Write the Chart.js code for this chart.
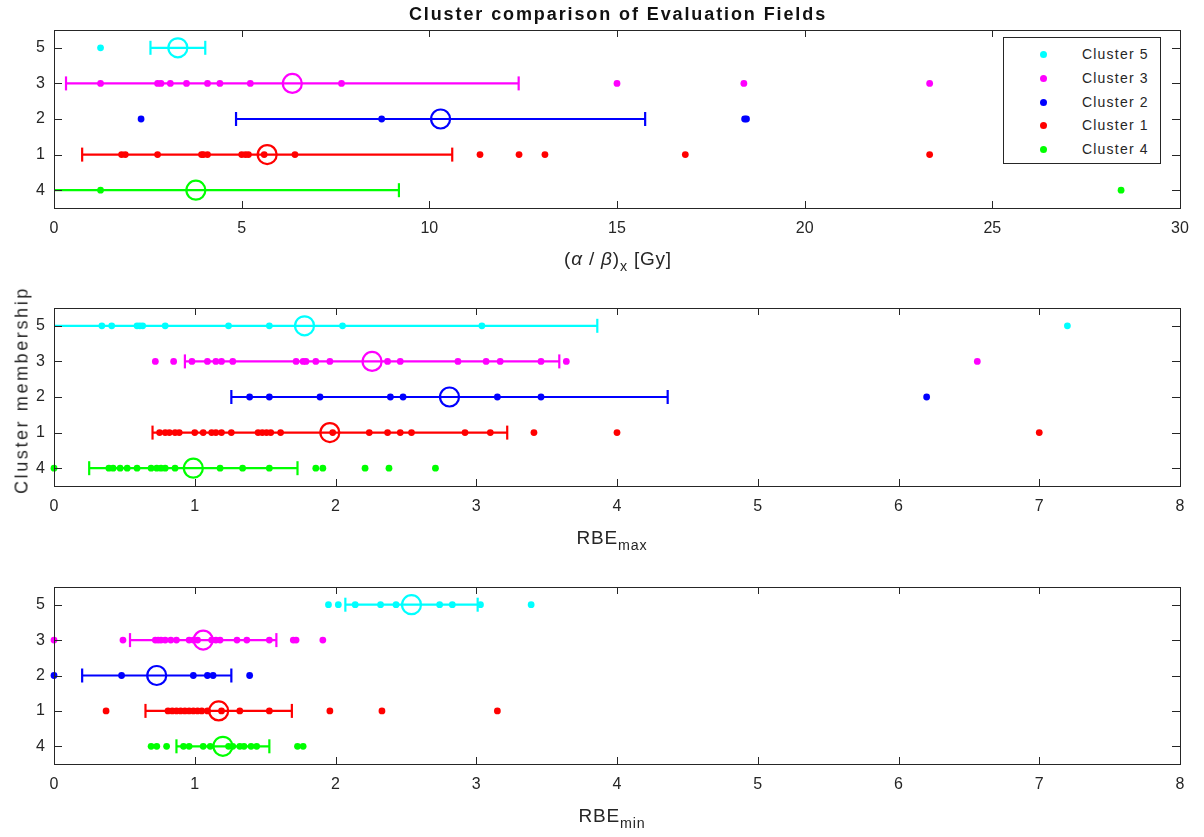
<!DOCTYPE html>
<html>
<head>
<meta charset="utf-8">
<script src="https://cdn.jsdelivr.net/npm/chart.js@4.4.1/dist/chart.umd.min.js"></script>
<style>
  body { margin: 0; background: #fff; }
  #wrap { position: relative; width: 1204px; height: 837px; background: #fff; font-family: 'Liberation Sans', Arial, sans-serif; color: #262626; }
  canvas { position: absolute; left: 0; }
  .lbl { position: absolute; white-space: nowrap; transform: translate(-50%, -50%); }
  .lbl sub { font-size: 75%; vertical-align: -0.45em; line-height: 0; }
  #title { font-weight: bold; font-size: 18px; letter-spacing: 1.9px; color: #111; }
  .xt { font-size: 19px; letter-spacing: 0.8px; }
  #ytitle { font-size: 18px; letter-spacing: 2.6px; transform: translate(-50%, -50%) rotate(-90deg); }
  #legend { position: absolute; left: 1003px; top: 37px; width: 156px; height: 125px; border: 1px solid #262626; background: #fff; }
  .li { position: absolute; left: 0; height: 24px; width: 156px; font-size: 14px; letter-spacing: 1.2px; line-height: 24px; }
  .li span.dot { position: absolute; left: 36px; top: 9px; width: 7px; height: 7px; border-radius: 50%; }
  .li span.txt { position: absolute; left: 78px; }
</style>
</head>
<body>
<div id="wrap">
  <canvas id="c1" width="1204" height="250" style="top:0px"></canvas>
  <canvas id="c2" width="1204" height="250" style="top:280px"></canvas>
  <canvas id="c3" width="1204" height="250" style="top:560px"></canvas>
  <div class="lbl" id="title" style="left:618px; top:14px;">Cluster comparison of Evaluation Fields</div>
  <div class="lbl xt" style="left:618px; top:259px;">(<i>α</i> / <i>β</i>)<sub>x</sub> [Gy]</div>
  <div class="lbl xt" style="left:612px; top:538px;">RBE<sub>max</sub></div>
  <div class="lbl xt" style="left:612px; top:816px;">RBE<sub>min</sub></div>
  <div class="lbl" id="ytitle" style="left:22px; top:390px;">Cluster membership</div>
  <div id="legend"></div>
</div>
<script>
const clusterNames = ['Cluster 5', 'Cluster 3', 'Cluster 2', 'Cluster 1', 'Cluster 4'];
const rowLabels = ['5', '3', '2', '1', '4'];
const clusterColors = ['#00ffff', '#ff00ff', '#0000ff', '#ff0000', '#00ff00'];

// (alpha/beta)_x, one list per cluster in the order above
const abPoints = [
    [1.24],
    [1.24, 2.76, 2.85, 3.1, 3.53, 4.09, 4.42, 5.23, 7.66, 15.0, 18.38, 23.33],
    [2.32, 8.73, 18.4, 18.45],
    [1.8, 1.9, 2.76, 3.93, 3.98, 4.09, 5.0, 5.1, 5.18, 5.6, 6.42, 11.35, 12.39, 13.08, 16.82, 23.33],
    [1.24, 28.43]
];
const abMean = [3.30, 6.35, 10.3, 5.68, 3.78];
const abStd = [0.73, 6.03, 5.45, 4.93, 5.41];

// RBEmax
const maxPoints = [
    [0.34, 0.41, 0.59, 0.61, 0.63, 0.79, 1.24, 1.53, 2.05, 3.04, 7.20],
    [0.72, 0.85, 0.98, 1.09, 1.15, 1.19, 1.27, 1.72, 1.77, 1.79, 1.86, 1.96, 2.37, 2.46, 2.87, 3.07, 3.17, 3.46, 3.64, 6.56],
    [1.39, 1.53, 1.89, 2.39, 2.48, 3.15, 3.46, 6.20],
    [0.75, 0.79, 0.82, 0.86, 0.89, 1.0, 1.06, 1.12, 1.15, 1.19, 1.26, 1.45, 1.48, 1.51, 1.54, 1.61, 1.98, 2.24, 2.37, 2.46, 2.54, 2.92, 3.10, 3.41, 4.0, 7.0],
    [0, 0.39, 0.42, 0.47, 0.52, 0.59, 0.69, 0.73, 0.76, 0.79, 0.86, 1.18, 1.34, 1.53, 1.86, 1.91, 2.21, 2.38, 2.71]
];
const maxMean = [1.78, 2.26, 2.81, 1.96, 0.99];
const maxStd = [2.08, 1.33, 1.55, 1.26, 0.74];

// RBEmin
const minPoints = [
    [1.95, 2.02, 2.14, 2.32, 2.43, 2.74, 2.83, 3.03, 3.39],
    [0, 0.49, 0.72, 0.74, 0.76, 0.79, 0.83, 0.87, 0.96, 0.99, 1.02, 1.12, 1.15, 1.18, 1.30, 1.37, 1.53, 1.70, 1.72, 1.91],
    [0, 0.48, 0.99, 1.09, 1.13, 1.39],
    [0.37, 0.81, 0.84, 0.87, 0.90, 0.93, 0.96, 0.99, 1.02, 1.05, 1.09, 1.19, 1.32, 1.53, 1.96, 2.33, 3.15],
    [0.69, 0.73, 0.80, 0.92, 0.96, 1.06, 1.11, 1.24, 1.27, 1.32, 1.35, 1.40, 1.44, 1.73, 1.77]
];
const minMean = [2.54, 1.06, 0.73, 1.17, 1.20];
const minStd = [0.47, 0.52, 0.53, 0.52, 0.33];

const tickFont = { family: "'Liberation Sans Narrow', 'Liberation Sans', Arial, sans-serif", size: 16 };
const axisColor = '#262626';

// frame with inward ticks on all four sides (matlab box style)
const boxTicks = {
    id: 'boxTicks',
    afterDraw(chart) {
        const { ctx, chartArea: a, scales } = chart;
        ctx.save();
        ctx.strokeStyle = axisColor;
        ctx.lineWidth = 1;
        ctx.beginPath();
        scales.x.ticks.forEach(t => {
            const px = Math.round(scales.x.getPixelForValue(t.value)) + 0.5;
            ctx.moveTo(px, a.bottom); ctx.lineTo(px, a.bottom - 7);
            ctx.moveTo(px, a.top); ctx.lineTo(px, a.top + 7);
        });
        scales.y.ticks.forEach(t => {
            const py = Math.round(scales.y.getPixelForValue(t.value)) + 0.5;
            ctx.moveTo(a.left, py); ctx.lineTo(a.left + 8, py);
            ctx.moveTo(a.right, py); ctx.lineTo(a.right - 8, py);
        });
        ctx.stroke();
        ctx.strokeRect(Math.round(a.left) + 0.5, Math.round(a.top) + 0.5, Math.round(a.right - a.left), Math.round(a.bottom - a.top));
        ctx.restore();
    }
};

function makePanel(id, points, means, stds, xMax, xStep, padTop, xHeight) {
    const datasets = [];
    clusterNames.forEach((name, i) => {
        const y = 5 - i;
        const c = clusterColors[i];
        datasets.push({
            label: name,
            data: points[i].map(x => ({ x: x, y: y })),
            pointRadius: 3.4,
            pointBackgroundColor: c,
            pointBorderWidth: 0,
            clip: false,
            order: 3
        });
        datasets.push({
            type: 'line',
            label: name + ' range',
            data: [{ x: means[i] - stds[i], y: y }, { x: means[i] + stds[i], y: y }],
            borderColor: c,
            borderWidth: 2.2,
            showLine: true,
            pointStyle: 'line',
            pointRotation: 90,
            pointRadius: 7,
            pointBorderWidth: 2.2,
            pointBorderColor: c,
            order: 2
        });
        datasets.push({
            label: name + ' mean',
            data: [{ x: means[i], y: y }],
            pointRadius: 9.5,
            pointBorderWidth: 2.2,
            pointBorderColor: c,
            pointBackgroundColor: 'rgba(0,0,0,0)',
            order: 1
        });
    });

    new Chart(document.getElementById(id), {
        type: 'scatter',
        data: { datasets: datasets },
        options: {
            responsive: false,
            animation: false,
            events: [],
            layout: { padding: { top: padTop, right: 24, left: 0, bottom: 0 } },
            plugins: { legend: { display: false }, title: { display: false }, tooltip: { enabled: false } },
            scales: {
                x: {
                    type: 'linear',
                    min: 0,
                    max: xMax,
                    ticks: { stepSize: xStep, font: tickFont, color: axisColor, padding: 11, maxRotation: 0, autoSkip: false },
                    grid: { display: false, drawTicks: false },
                    border: { display: false },
                    afterFit: s => { s.height = xHeight; }
                },
                y: {
                    type: 'linear',
                    min: 0.5,
                    max: 5.5,
                    afterBuildTicks: s => { s.ticks = [1, 2, 3, 4, 5].map(v => ({ value: v })); },
                    ticks: { font: tickFont, color: axisColor, padding: 9, callback: v => rowLabels[5 - v] },
                    grid: { display: false, drawTicks: false },
                    border: { display: false },
                    afterFit: s => { s.width = 54; }
                }
            }
        },
        plugins: [boxTicks]
    });
}

// panel plot areas: 30-208, 308-486, 587-764 in page pixels
makePanel('c1', abPoints, abMean, abStd, 30, 5, 30, 42);
makePanel('c2', maxPoints, maxMean, maxStd, 8, 1, 28, 44);
makePanel('c3', minPoints, minMean, minStd, 8, 1, 27, 46);

// legend built from the cluster lists
const legend = document.getElementById('legend');
clusterNames.forEach((name, i) => {
    const row = document.createElement('div');
    row.className = 'li';
    row.style.top = (4 + i * 23.8) + 'px';
    row.innerHTML = '<span class="dot" style="background:' + clusterColors[i] + '"></span><span class="txt">' + name + '</span>';
    legend.appendChild(row);
});
</script>
</body>
</html>
